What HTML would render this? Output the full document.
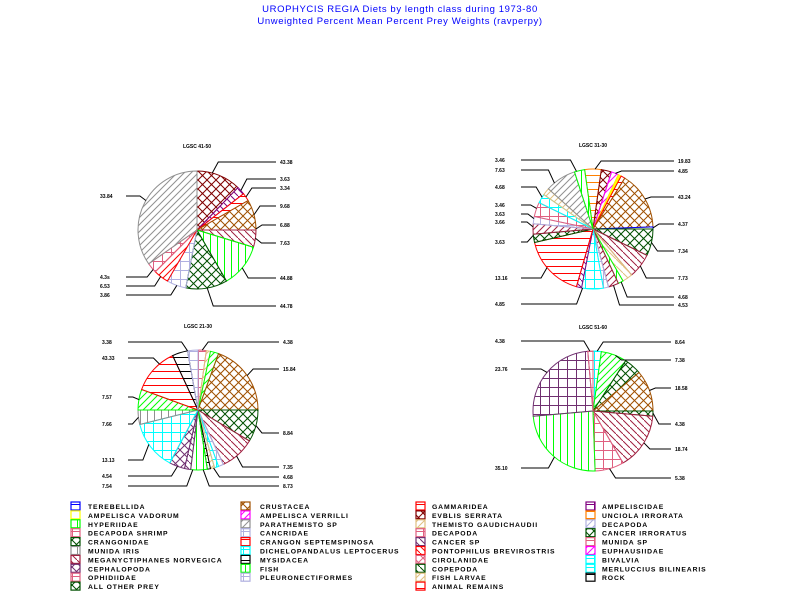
<!DOCTYPE html>
<html><head><meta charset="utf-8"><style>
html,body{margin:0;padding:0;background:#fff}
svg{display:block}
text{font-family:"Liberation Sans",sans-serif}
.t{fill:#0000ff;font-size:9.5px;letter-spacing:0.6px}
.l{font-size:5px;font-weight:bold;fill:#000}
.g{font-size:6.8px;font-weight:bold;fill:#000;letter-spacing:0.9px}
</style></head><body>
<svg id="s" width="800" height="600" xmlns="http://www.w3.org/2000/svg">
<defs id="d"></defs>
<text class="t" x="400" y="12" text-anchor="middle">UROPHYCIS REGIA Diets by length class during 1973-80</text>
<text class="t" x="400" y="24" text-anchor="middle">Unweighted Percent Mean Percent Prey  Weights (ravperpy)</text>
<g id="pies"></g>
<g id="leg"></g>
</svg>
<script>
var NS="http://www.w3.org/2000/svg",defs=document.getElementById('d'),pies=document.getElementById('pies'),leg=document.getElementById('leg');
var C={mr:'#800000',pu:'#800080',rd:'#ff0000',br:'#a05000',m2:'#a02040',gr:'#00ff00',dg:'#005000',lv:'#b0b0e0',pk:'#e06080',gy:'#909090',or:'#ff8000',mg:'#ff00ff',ye:'#ffff00',bl:'#0000ff',tn:'#e0c080',cy:'#00ffff',bk:'#000000',p2:'#703070'};
var made={};
function el(n,a,p){var e=document.createElementNS(NS,n);for(var k in a)e.setAttribute(k,a[k]);(p||pies).appendChild(e);return e;}
function pat(c,t){var id=t+c;if(made[id])return 'url(#'+id+')';made[id]=1;var col=C[c];
 if(t=='f')return col;
 var s=t=='x'||t=='g'||t=='xx'?9:7;
 var p=el('pattern',{id:id,patternUnits:'userSpaceOnUse',width:s,height:s},defs);
 var a={stroke:col,'stroke-width':1,fill:'none'};
 function ln(x1,y1,x2,y2){var o={x1:x1,y1:y1,x2:x2,y2:y2};for(var k in a)o[k]=a[k];el('line',o,p);}
 if(t=='d'){ln(0,s,s,0);ln(-1,1,1,-1);ln(s-1,s+1,s+1,s-1);}
 if(t=='b'){ln(0,0,s,s);}
 if(t=='h'){ln(0,0.5,s,0.5);}
 if(t=='v'){ln(0.5,0,0.5,s);}
 if(t=='x'){ln(0,0,s,s);ln(0,s,s,0);}
 if(t=='g'){ln(0,0.5,s,0.5);ln(0.5,0,0.5,s);}
 if(t=='xx'){ln(0,0,s,s);ln(0,s,s,0);el('circle',{cx:s/2,cy:s/2,r:1,fill:col},p);}
 return 'url(#'+id+')';}
function pie(cx,cy,r,sl,title){
 el('text',{class:'l',x:cx,y:cy-82,'text-anchor':'middle'}).textContent=title;
 sl.forEach(function(q){var a0=(q[0]-90)*Math.PI/180,a1=(q[1]-90)*Math.PI/180;
  var x0=cx+r*Math.cos(a0),y0=cy+r*Math.sin(a0),x1=cx+r*Math.cos(a1),y1=cy+r*Math.sin(a1);
  var big=(q[1]-q[0])>180?1:0;
  el('path',{d:'M'+cx+','+cy+'L'+x0+','+y0+'A'+r+','+r+' 0 '+big+' 1 '+x1+','+y1+'Z',fill:pat(q[2],q[3]),stroke:C[q[2]],'stroke-width':1});
 });}
function labs(cx,cy,r,L){L.forEach(function(q){var a=(q[0]-90)*Math.PI/180;var px=cx+r*Math.cos(a),py=cy+r*Math.sin(a);
 var right=q[2]>cx;var ex=right?q[2]-4:q[2]+26;var bx=px+(right?6:-6);
 el('polyline',{points:px+','+py+' '+bx+','+q[1]+' '+ex+','+q[1],fill:'none',stroke:'#000','stroke-width':1});
 el('text',{class:'l',x:q[2],y:q[1]+2}).textContent=q[3];});}
pie(197,230,59,[[0,44,'mr','xx'],[44,52,'pu','b'],[52,60,'rd','h'],[60,90,'br','x'],[90,107,'m2','b'],[107,150,'gr','v'],[150,191,'dg','x'],[191,210,'lv','g'],[210,225,'rd','d'],[225,235,'pk','g'],[235,360,'gy','d']],'LGSC 41-50');
labs(197,230,59,[[15,162,280,'43.38'],[48,179,280,'3.63'],[56,188,280,'3.34'],[75,206,280,'9.68'],[89,225,280,'6.88'],[98,243,280,'7.63'],[130,278,280,'44.88'],[170,306,280,'44.78'],[228,277,100,'4.3s'],[218,286,100,'6.53'],[200,295,100,'3.86'],[300,196,100,'33.84']]);
pie(593,229,60,[[-8,8,'or','h'],[8,18,'mr','xx'],[18,25,'mg','d'],[25,28,'ye','f'],[28,32,'rd','h'],[32,88,'br','x'],[88,90,'bl','h'],[90,116,'dg','xx'],[116,140,'m2','b'],[140,150,'tn','b'],[150,155,'gr','v'],[155,165,'m2','d'],[165,170,'lv','g'],[170,191,'cy','g'],[191,196,'pu','b'],[196,257,'rd','h'],[257,265,'dg','x'],[265,275,'m2','d'],[275,282,'lv','g'],[282,296,'pk','g'],[296,305,'cy','g'],[305,312,'tn','d'],[312,342,'gy','d'],[342,352,'gr','v']],'LGSC 31-30');
labs(593,229,60,[[2,161,678,'19.83'],[22,171,678,'4.85'],[60,197,678,'43.24'],[89,224,678,'4.37'],[103,251,678,'7.34'],[128,278,678,'7.73'],[152,297,678,'4.68'],[160,305,678,'4.53'],[-16,160,495,'3.46'],[-40,170,495,'7.63'],[-58,187,495,'4.68'],[-70,205,495,'3.46'],[-80,214,495,'3.63'],[-88,222,495,'3.66'],[-96,242,495,'3.63'],[-130,278,495,'13.16'],[-170,304,495,'4.85']]);
pie(198,410,60,[[0,8,'pk','g'],[8,12,'tn','d'],[12,20,'gr','d'],[20,90,'br','xx'],[90,121,'dg','xx'],[121,155,'m2','b'],[155,160,'lv','g'],[160,164,'cy','g'],[164,168,'tn','d'],[168,171,'bk','h'],[171,187,'gr','v'],[187,193,'p2','b'],[193,208,'p2','x'],[208,256,'cy','g'],[256,270,'gy','v'],[270,290,'gr','d'],[290,335,'rd','h'],[335,350,'bk','h'],[350,360,'lv','g']],'LGSC 21-30');
labs(198,410,60,[[4,342,283,'4.38'],[55,369,283,'15.84'],[105,433,283,'8.84'],[140,467,283,'7.35'],[165,477,283,'4.68'],[175,486,283,'8.73'],[-10,342,102,'3.38'],[-40,358,102,'43.33'],[-80,397,102,'7.57'],[-97,424,102,'7.66'],[-125,460,102,'13.13'],[-160,476,102,'4.54'],[-175,486,102,'7.54']]);
pie(593,411,60,[[0,8,'cy','g'],[8,33,'gr','d'],[33,50,'dg','xx'],[50,90,'br','x'],[90,95,'dg','x'],[95,150,'m2','b'],[150,178,'pk','g'],[178,265,'gr','v'],[265,355,'p2','g'],[355,360,'pk','g']],'LGSC 51-60');
labs(593,411,60,[[4,342,675,'8.64'],[22,360,675,'7.38'],[70,388,675,'18.58'],[92,424,675,'4.38'],[122,449,675,'18.74'],[164,478,675,'5.38'],[-3,341,495,'4.38'],[-50,369,495,'23.76'],[-140,468,495,'35.10']]);
var LG=[[71,88,[['bl','h','TEREBELLIDA'],['ye','f','AMPELISCA VADORUM'],['gr','v','HYPERIIDAE'],['pk','g','DECAPODA SHRIMP'],['dg','x','CRANGONIDAE'],['gy','v','MUNIDA IRIS'],['m2','b','MEGANYCTIPHANES NORVEGICA'],['p2','x','CEPHALOPODA'],['pk','g','OPHIDIIDAE'],['dg','xx','ALL OTHER PREY']]],
[241,260,[['br','x','CRUSTACEA'],['mg','d','AMPELISCA VERRILLI'],['gy','d','PARATHEMISTO SP'],['lv','g','CANCRIDAE'],['rd','h','CRANGON SEPTEMSPINOSA'],['cy','g','DICHELOPANDALUS LEPTOCERUS'],['bk','h','MYSIDACEA'],['gr','v','FISH'],['lv','g','PLEURONECTIFORMES']]],
[416,432,[['rd','h','GAMMARIDEA'],['mr','xx','EVBLIS SERRATA'],['tn','d','THEMISTO GAUDICHAUDII'],['pk','g','DECAPODA'],['p2','b','CANCER SP'],['rd','b','PONTOPHILUS BREVIROSTRIS'],['pk','x','CIROLANIDAE'],['dg','b','COPEPODA'],['tn','d','FISH LARVAE'],['rd','h','ANIMAL REMAINS']]],
[586,602,[['pu','g','AMPELISCIDAE'],['or','h','UNCIOLA IRRORATA'],['lv','d','DECAPODA'],['dg','x','CANCER IRRORATUS'],['pk','g','MUNIDA SP'],['mg','d','EUPHAUSIIDAE'],['cy','g','BIVALVIA'],['cy','g','MERLUCCIUS BILINEARIS'],['bk','h','ROCK']]]];
LG.forEach(function(c){c[2].forEach(function(q,i){var y=502+i*8.9;
 el('rect',{x:c[0],y:y,width:9,height:8,fill:pat(q[0],q[1]),stroke:C[q[0]],'stroke-width':1.2},leg);
 el('text',{class:'g',x:c[1],y:y+7},leg).textContent=q[2];});});
</script>
</body></html>
